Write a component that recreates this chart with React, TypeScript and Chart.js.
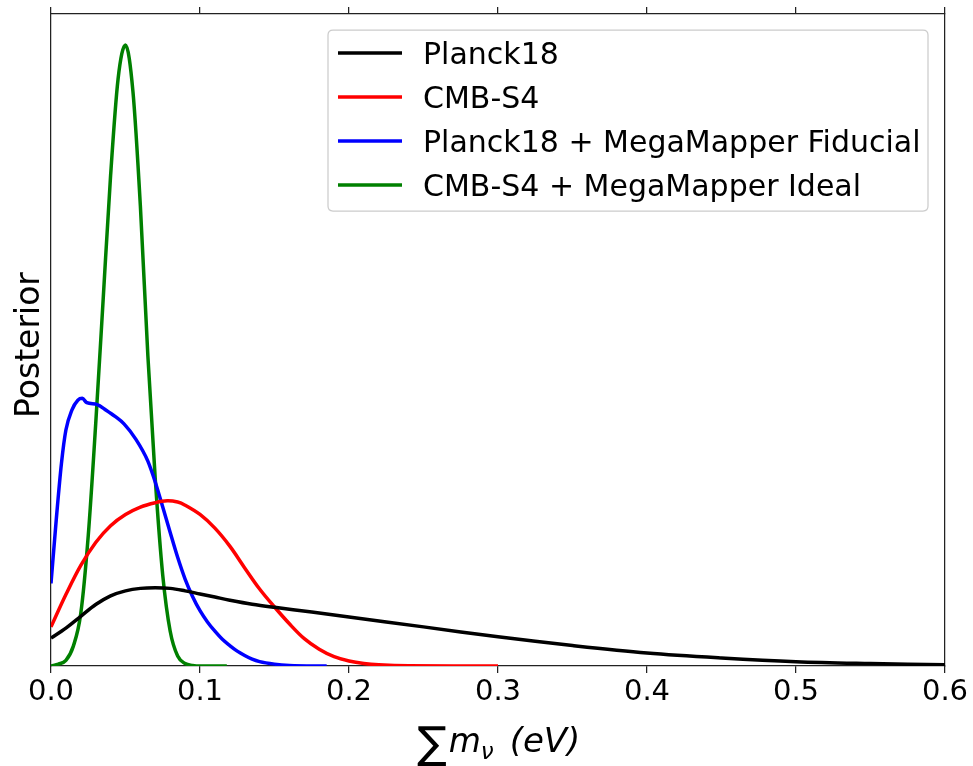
import { useEffect, useRef } from 'react';
import { Chart, registerables } from 'chart.js';

Chart.register(...registerables);

// ---- data ----
const X_TICKS = [0, 0.1, 0.2, 0.3, 0.4, 0.5, 0.6];
const SERIES_LABELS = ['Planck18', 'CMB-S4', 'Planck18 + MegaMapper Fiducial', 'CMB-S4 + MegaMapper Ideal'];
const SERIES_COLORS = ['#000000', '#ff0000', '#0000ff', '#008000'];
const Y_TITLE = 'Posterior';
const X_TITLE_PARTS = ['∑', 'm', 'ν', '(eV)'];

const planckX = [0, 0.01, 0.02, 0.03, 0.04, 0.05, 0.06, 0.07, 0.08, 0.09, 0.1, 0.11, 0.12, 0.135, 0.15, 0.175, 0.2, 0.25, 0.3, 0.35, 0.4, 0.45, 0.5, 0.55, 0.6];
const planckY = [0.045, 0.061, 0.08, 0.099, 0.113, 0.121, 0.125, 0.126, 0.125, 0.121, 0.116, 0.111, 0.106, 0.0995, 0.0945, 0.087, 0.079, 0.063, 0.047, 0.033, 0.021, 0.013, 0.007, 0.004, 0.002];

const cmbX = [0, 0.01, 0.02, 0.03, 0.04, 0.05, 0.06, 0.07, 0.078, 0.085, 0.09, 0.1, 0.11, 0.12, 0.13, 0.14, 0.15, 0.16, 0.17, 0.18, 0.19, 0.2, 0.21, 0.22, 0.24, 0.3];
const cmbY = [0.063, 0.115, 0.162, 0.199, 0.226, 0.244, 0.256, 0.263, 0.266, 0.264, 0.259, 0.244, 0.222, 0.193, 0.158, 0.124, 0.095, 0.068, 0.044, 0.027, 0.015, 0.008, 0.004, 0.002, 0.0005, 0];

const fiducialX = [0, 0.0035, 0.007, 0.01, 0.014, 0.018, 0.021, 0.024, 0.031, 0.037, 0.043, 0.049, 0.057, 0.065, 0.07, 0.075, 0.08, 0.085, 0.09, 0.095, 0.1, 0.105, 0.11, 0.115, 0.12, 0.125, 0.13, 0.135, 0.14, 0.15, 0.16, 0.185];
const fiducialY = [0.133, 0.235, 0.326, 0.38, 0.412, 0.428, 0.431, 0.424, 0.421, 0.412, 0.402, 0.39, 0.365, 0.33, 0.296, 0.256, 0.215, 0.175, 0.14, 0.112, 0.089, 0.071, 0.056, 0.043, 0.033, 0.024, 0.017, 0.011, 0.007, 0.003, 0.001, 0];

const idealX = [0, 0.005, 0.01, 0.015, 0.02, 0.025, 0.03, 0.035, 0.04, 0.045, 0.05, 0.055, 0.06, 0.065, 0.07, 0.075, 0.08, 0.085, 0.09, 0.095, 0.1, 0.118];
const idealY = [0, 0.003, 0.009, 0.032, 0.085, 0.21, 0.39, 0.59, 0.79, 0.945, 1.0, 0.925, 0.74, 0.5, 0.3, 0.146, 0.056, 0.016, 0.004, 0.001, 0, 0];

const Y_MAX = 1.05;

const SERIES_X = [planckX, cmbX, fiducialX, idealX];
const SERIES_Y = [planckY, cmbY, fiducialY, idealY];
const SERIES_MONOTONE = [false, false, true, true];

const FONT = '"DejaVu Sans", "Liberation Sans", sans-serif';
const AXIS_COLOR = '#222222';

const overlayPlugin = {
  id: 'overlay',
  afterDraw(chart: any) {
    const { ctx, chartArea } = chart;
    ctx.save();
    // ---- legend ----
    const lx = chartArea.left + 277;
    const ly = chartArea.top + 16;
    const lw = 600;
    const lh = 181;
    const r = 5;
    ctx.beginPath();
    ctx.moveTo(lx + r, ly);
    ctx.lineTo(lx + lw - r, ly);
    ctx.quadraticCurveTo(lx + lw, ly, lx + lw, ly + r);
    ctx.lineTo(lx + lw, ly + lh - r);
    ctx.quadraticCurveTo(lx + lw, ly + lh, lx + lw - r, ly + lh);
    ctx.lineTo(lx + r, ly + lh);
    ctx.quadraticCurveTo(lx, ly + lh, lx, ly + lh - r);
    ctx.lineTo(lx, ly + r);
    ctx.quadraticCurveTo(lx, ly, lx + r, ly);
    ctx.closePath();
    ctx.fillStyle = 'rgba(255,255,255,0.8)';
    ctx.fill();
    ctx.strokeStyle = '#cccccc';
    ctx.lineWidth = 1.25;
    ctx.stroke();
    chart.data.datasets.forEach((ds: any, i: number) => {
      const rowY = ly + 23 + i * 44;
      ctx.strokeStyle = ds.borderColor;
      ctx.lineWidth = 3.5;
      ctx.beginPath();
      ctx.moveTo(lx + 10, rowY);
      ctx.lineTo(lx + 74, rowY);
      ctx.stroke();
      ctx.fillStyle = '#000';
      ctx.font = `30px ${FONT}`;
      ctx.textBaseline = 'alphabetic';
      ctx.textAlign = 'left';
      ctx.fillText(ds.label, lx + 95, rowY + 10.5);
    });
    // ---- y axis title ----
    ctx.save();
    ctx.translate(39, 345);
    ctx.rotate(-Math.PI / 2);
    ctx.font = `33px ${FONT}`;
    ctx.textAlign = 'center';
    ctx.textBaseline = 'alphabetic';
    ctx.fillStyle = '#000';
    ctx.fillText(Y_TITLE, 0, 0);
    ctx.restore();
    // ---- x axis title (mathtext-like) ----
    const baseY = 752;
    let x = 417;
    ctx.textAlign = 'left';
    ctx.fillStyle = '#000';
    ctx.font = `44px ${FONT}`;
    ctx.fillText(X_TITLE_PARTS[0], x, baseY + 6);
    x += ctx.measureText(X_TITLE_PARTS[0]).width + 2;
    ctx.font = `italic 33px ${FONT}`;
    ctx.fillText(X_TITLE_PARTS[1], x, baseY);
    x += ctx.measureText(X_TITLE_PARTS[1]).width;
    ctx.font = `italic 23px ${FONT}`;
    ctx.fillText(X_TITLE_PARTS[2], x, baseY + 7);
    x += ctx.measureText(X_TITLE_PARTS[2]).width + 16;
    ctx.font = `italic 34px ${FONT}`;
    ctx.fillText(X_TITLE_PARTS[3], x, baseY);
    ctx.restore();
  },
};

export default function App() {
  const canvasRef = useRef<HTMLCanvasElement | null>(null);

  useEffect(() => {
    document.body.style.margin = '0';
    const canvas = canvasRef.current;
    if (!canvas) return;
    const datasets = SERIES_LABELS.map((label, i) => ({
      label,
      data: SERIES_X[i].map((x, j) => ({ x, y: SERIES_Y[i][j] })),
      borderColor: SERIES_COLORS[i],
      backgroundColor: SERIES_COLORS[i],
      borderWidth: 3.5,
      pointRadius: 0,
      fill: false,
      cubicInterpolationMode: (SERIES_MONOTONE[i] ? 'monotone' : 'default') as any,
      tension: SERIES_MONOTONE[i] ? 0 : 0.35,
      borderJoinStyle: 'round' as const,
      borderCapStyle: 'butt' as const,
    }));
    const tickCallback = (v: any) => Number(v).toFixed(1);
    const chart = new Chart(canvas, {
      type: 'line',
      data: { datasets },
      plugins: [overlayPlugin],
      options: {
        animation: false,
        responsive: false,
        devicePixelRatio: 1,
        layout: { padding: 0 },
        plugins: { legend: { display: false }, tooltip: { enabled: false } },
        scales: {
          x: {
            type: 'linear',
            position: 'bottom',
            min: 0,
            max: 0.6,
            afterBuildTicks: (s: any) => { s.ticks = X_TICKS.map((v) => ({ value: v })); },
            afterFit: (s: any) => { s.height = 100; },
            ticks: { callback: tickCallback, color: '#000', font: { family: FONT, size: 29 }, padding: 2, maxRotation: 0, autoSkip: false },
            grid: { drawOnChartArea: false, color: AXIS_COLOR, tickLength: 7, lineWidth: 1.25 },
            border: { display: true, color: AXIS_COLOR, width: 1.25 },
          },
          x2: {
            type: 'linear',
            position: 'top',
            min: 0,
            max: 0.6,
            afterBuildTicks: (s: any) => { s.ticks = X_TICKS.map((v) => ({ value: v })); },
            afterFit: (s: any) => { s.height = 14; },
            ticks: { callback: () => '', autoSkip: false },
            grid: { drawOnChartArea: false, color: AXIS_COLOR, tickLength: 7, lineWidth: 1.25 },
            border: { display: true, color: AXIS_COLOR, width: 1.25 },
          },
          y: {
            type: 'linear',
            position: 'left',
            min: 0,
            max: Y_MAX,
            afterFit: (s: any) => { s.width = 51; },
            ticks: { display: false },
            grid: { display: false },
            border: { display: true, color: AXIS_COLOR, width: 1.25 },
            title: { display: false, text: Y_TITLE },
          },
          y2: {
            type: 'linear',
            position: 'right',
            min: 0,
            max: Y_MAX,
            afterFit: (s: any) => { s.width = 28; },
            ticks: { display: false },
            grid: { display: false },
            border: { display: true, color: AXIS_COLOR, width: 1.25 },
          },
        },
      },
    } as any);
    return () => chart.destroy();
  }, []);

  return (
    <div style={{ width: 973, height: 766 }}>
      <canvas ref={canvasRef} width={973} height={766} />
    </div>
  );
}
